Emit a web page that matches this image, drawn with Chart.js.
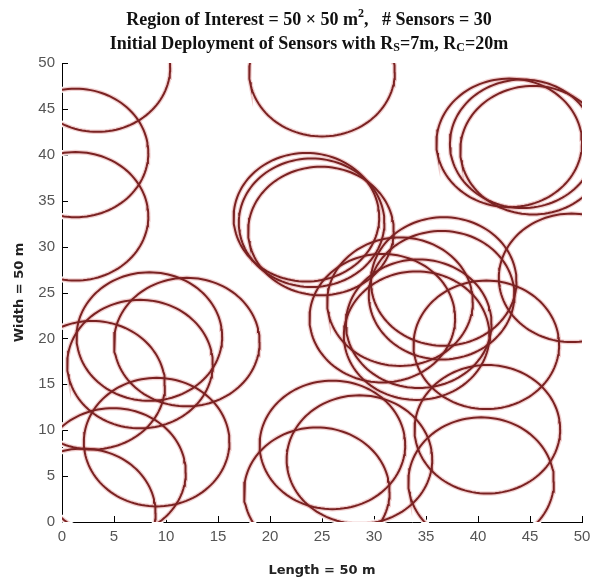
<!DOCTYPE html>
<html>
<head>
<meta charset="utf-8">
<script src="https://cdn.jsdelivr.net/npm/chart.js@4.4.0/dist/chart.umd.min.js"></script>
<style>
  html, body { margin: 0; padding: 0; background: #fff; }
</style>
</head>
<body>
<canvas id="deployment" width="590" height="580"></canvas>
<script>
// Sensor positions (m)
const sensorX = [3.4, 1.3, 1.3, 25.0, 9.1, 4.9, 2.0, 2.9, 7.5, 12.0,
                 8.4, 26.0, 24.5, 28.6, 40.9, 40.3, 43.0, 44.3, 45.3, 23.5,
                 24.0, 24.9, 36.7, 36.5, 34.3, 30.8, 40.8, 49.0, 34.1, 32.5];
const sensorY = [49.5, 40.2, 33.3, 49.0, 8.7, 5.4, 1.0, 14.9, 17.2, 19.6,
                 20.2, 8.4, 3.3, 6.8, 10.1, 4.4, 41.3, 41.2, 40.5, 33.2,
                 32.6, 31.7, 26.2, 24.7, 21.6, 22.2, 19.3, 26.6, 20.3, 24.0];
const sensingRadius = 7;
const xTicks = [0, 5, 10, 15, 20, 25, 30, 35, 40, 45, 50];
const yTicks = [0, 5, 10, 15, 20, 25, 30, 35, 40, 45, 50];

const circleSteps = 120;
function ring(cx, cy) {
  const pts = [];
  for (let k = 0; k <= circleSteps; k++) {
    const t = 2 * Math.PI * k / circleSteps;
    pts.push({ x: cx + sensingRadius * Math.cos(t), y: cy + sensingRadius * Math.sin(t) });
  }
  return pts;
}

const datasets = [];
sensorX.forEach((cx, i) => {
  const pts = ring(cx, sensorY[i]);
  // white halo underneath, so the rings break the axis lines like the original
  datasets.push({ data: pts, borderColor: '#ffffff', borderWidth: 6, order: 2, clip: 4 });
  datasets.push({ data: pts, borderColor: 'rgba(215,120,120,0.35)', borderWidth: 4.5, order: 1, clip: 0 });
  datasets.push({ data: pts, borderColor: '#7a2222', borderWidth: 2, order: 0, clip: 0 });
});

// MATLAB style ticks pointing into the plot
const innerTicks = {
  id: 'innerTicks',
  beforeDatasetsDraw(chart) {
    const { ctx, chartArea: a, scales: { x, y } } = chart;
    ctx.save();
    ctx.strokeStyle = '#000';
    ctx.lineWidth = 1;
    ctx.beginPath();
    xTicks.forEach(v => {
      const px = Math.round(x.getPixelForValue(v)) + 0.5;
      ctx.moveTo(px, a.bottom);
      ctx.lineTo(px, a.bottom - 6);
    });
    yTicks.forEach(v => {
      const py = Math.round(y.getPixelForValue(v)) + 0.5;
      ctx.moveTo(a.left, py);
      ctx.lineTo(a.left + 6, py);
    });
    ctx.stroke();
    ctx.restore();
  }
};

function drawRuns(ctx, runs, cx, baseline, family) {
  let total = 0;
  runs.forEach(r => {
    ctx.font = 'bold ' + r.size + 'px ' + family;
    r.w = ctx.measureText(r.t).width;
    total += r.w;
  });
  let x = cx - total / 2;
  runs.forEach(r => {
    ctx.font = 'bold ' + r.size + 'px ' + family;
    ctx.fillText(r.t, x, baseline + (r.dy || 0));
    x += r.w;
  });
}

const labels = {
  id: 'labels',
  afterDraw(chart) {
    const { ctx, chartArea: a } = chart;
    const serif = '"Liberation Serif", "Times New Roman", serif';
    ctx.save();
    ctx.fillStyle = '#111';
    ctx.textBaseline = 'alphabetic';
    ctx.textAlign = 'left';
    drawRuns(ctx, [
      { t: 'Region of Interest = 50 \u00d7 50 m', size: 18 },
      { t: '2', size: 12, dy: -8 },
      { t: ',   # Sensors = 30', size: 18 }
    ], 309, 25, serif);
    drawRuns(ctx, [
      { t: 'Initial Deployment of Sensors with R', size: 18 },
      { t: 'S', size: 12, dy: 2 },
      { t: '=7m, R', size: 18 },
      { t: 'C', size: 12, dy: 2 },
      { t: '=20m', size: 18 }
    ], 309, 49, serif);

    ctx.fillStyle = '#222';
    ctx.font = 'bold 13px "DejaVu Sans", Verdana, sans-serif';
    ctx.textAlign = 'center';
    ctx.fillText('Length = 50 m', (a.left + a.right) / 2, 574);
    ctx.translate(23, (a.top + a.bottom) / 2);
    ctx.rotate(-Math.PI / 2);
    ctx.fillText('Width = 50 m', 0, 0);
    ctx.restore();
  }
};

const tickFont = { family: '"Liberation Sans", Arial, sans-serif', size: 15 };

new Chart(document.getElementById('deployment'), {
  type: 'scatter',
  data: { datasets },
  options: {
    responsive: false,
    animation: false,
    showLine: true,
    elements: { point: { radius: 0, hoverRadius: 0 }, line: { tension: 0, fill: false } },
    layout: { padding: { top: 63, right: 8, left: 0, bottom: 0 } },
    plugins: { legend: { display: false }, tooltip: { enabled: false } },
    events: [],
    scales: {
      x: {
        type: 'linear', min: 0, max: 50,
        afterBuildTicks: s => { s.ticks = xTicks.map(v => ({ value: v })); },
        afterFit: s => { s.height = 58; s.paddingLeft = 0; s.paddingRight = 0; },
        grid: { display: false, drawTicks: false },
        border: { display: true, color: '#000', width: 1 },
        ticks: { color: '#555', font: tickFont, padding: 6, maxRotation: 0 }
      },
      y: {
        type: 'linear', min: 0, max: 50,
        afterBuildTicks: s => { s.ticks = yTicks.map(v => ({ value: v })); },
        afterFit: s => { s.width = 62; s.paddingTop = 0; s.paddingBottom = 0; },
        grid: { display: false, drawTicks: false },
        border: { display: true, color: '#000', width: 1 },
        ticks: { color: '#555', font: tickFont, padding: 7 }
      }
    }
  },
  plugins: [innerTicks, labels]
});
</script>
</body>
</html>
